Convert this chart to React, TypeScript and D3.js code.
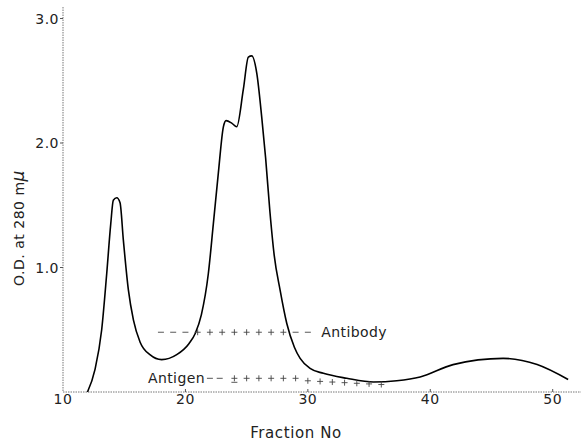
import React from "react";
import * as d3 from "d3";

// Elution profile: fraction number vs O.D. at 280 mμ
const fractions = [12, 12.61, 13.16, 13.57, 13.9, 14.11, 14.39, 14.66, 14.93, 15.34, 15.75, 16.3, 17.1, 18.06, 19.29, 20.3, 20.8, 21.3, 21.87, 22.28, 22.69, 23.1, 23.32, 23.78, 24.19, 24.73, 25.14, 25.42, 25.83, 26.24, 26.55, 26.9, 27.25, 27.73, 28.28, 28.9, 29.37, 30.18, 31.27, 33.18, 35.36, 37.26, 39.17, 41.86, 45.95, 48.73, 51.26];
const odValues = [0.0, 0.18, 0.5, 0.95, 1.35, 1.54, 1.56, 1.52, 1.22, 0.82, 0.58, 0.4, 0.3, 0.26, 0.3, 0.39, 0.47, 0.62, 0.95, 1.35, 1.76, 2.13, 2.18, 2.16, 2.13, 2.43, 2.69, 2.7, 2.56, 2.2, 1.88, 1.45, 1.1, 0.82, 0.55, 0.36, 0.27, 0.19, 0.15, 0.11, 0.08, 0.09, 0.12, 0.22, 0.27, 0.22, 0.1];

const xTicks = [10, 20, 30, 40, 50];
const yTicks = [1.0, 2.0, 3.0];

// Antibody test row
const antibodyFractions = [18, 19, 20, 21, 22, 23, 24, 25, 26, 27, 28, 29, 30];
const antibodySymbols = ["-", "-", "-", "+", "+", "+", "+", "+", "+", "+", "+", "-", "-"];
const antibodyLevel = 0.48;

// Antigen test row
const antigenFractions = [22, 22.8, 24, 25, 26, 27, 28, 29, 30, 31, 32, 33, 34, 35, 36];
const antigenSymbols = ["-", "-", "±", "+", "+", "+", "+", "+", "+", "+", "+", "+", "+", "+", "+"];
const antigenLevels = [0.11, 0.11, 0.11, 0.11, 0.11, 0.11, 0.11, 0.11, 0.09, 0.085, 0.08, 0.075, 0.07, 0.065, 0.06];

const W = 581;
const H = 441;
const FONT = "'DejaVu Sans', sans-serif";

export default function App() {
  const x = d3.scaleLinear().domain([10, 50]).range([63, 552.7]);
  const y = d3.scaleLinear().domain([0, 3]).range([392, 18.5]);

  const pts: [number, number][] = fractions.map((f, i) => [f, odValues[i]]);
  const line = d3
    .line<[number, number]>()
    .x((d) => x(d[0]))
    .y((d) => y(d[1]))
    .curve(d3.curveMonotoneX);

  const mark = (sym: string, cx: number, cy: number, key: string) => {
    const s = 3;
    if (sym === "-") {
      return <line key={key} x1={cx - 3} x2={cx + 3} y1={cy} y2={cy} stroke="#444" strokeWidth={0.9} />;
    }
    return (
      <g key={key} stroke="#444" strokeWidth={0.9}>
        <line x1={cx - s} x2={cx + s} y1={cy} y2={cy} />
        <line x1={cx} x2={cx} y1={cy - s} y2={cy + s} />
        {sym === "±" ? <line x1={cx - s} x2={cx + s} y1={cy + s + 1} y2={cy + s + 1} /> : null}
      </g>
    );
  };

  return (
    <div style={{ position: "absolute", left: 0, top: 0 }}>
      <svg width={W} height={H} style={{ display: "block", background: "#fff" }}>
        {/* axes */}
        <line x1={x(10)} x2={W} y1={y(0)} y2={y(0)} stroke="#777" strokeWidth={1} strokeDasharray="1.5,1" />
        <line x1={x(10)} x2={x(10)} y1={7} y2={y(0)} stroke="#777" strokeWidth={1} strokeDasharray="1.5,1" />
        {yTicks.map((t) => (
          <g key={"yt" + t}>
            <line x1={x(10) - 3} x2={x(10)} y1={y(t)} y2={y(t)} stroke="#555" />
            <text x={x(10) - 4} y={y(t) + 5} textAnchor="end" fontFamily={FONT} fontSize={14} fill="#222" letterSpacing={0.5}>
              {t.toFixed(1)}
            </text>
          </g>
        ))}
        {xTicks.map((t) => (
          <g key={"xt" + t}>
            {t > 10 ? <line x1={x(t)} x2={x(t)} y1={y(0) - 3} y2={y(0)} stroke="#555" /> : null}
            <text x={x(t)} y={404} textAnchor="middle" fontFamily={FONT} fontSize={14} fill="#222" letterSpacing={0.5}>
              {t}
            </text>
          </g>
        ))}
        <text x={296} y={438} textAnchor="middle" fontFamily={FONT} fontSize={15} fill="#222" letterSpacing={0.6}>
          Fraction No
        </text>
        <text
          transform={`translate(24, 228) rotate(-90)`}
          textAnchor="middle"
          fontFamily={FONT}
          fontSize={14}
          fill="#222"
          letterSpacing={0.5}
        >
          O.D. at 280 m<tspan fontStyle="italic" fontSize={17}>μ</tspan>
        </text>

        {/* curve */}
        <path d={line(pts) || ""} fill="none" stroke="#000" strokeWidth={1.6} strokeLinejoin="round" />

        {/* antibody row */}
        {antibodyFractions.map((f, i) => mark(antibodySymbols[i], x(f), y(antibodyLevel), "ab" + i))}
        <text x={x(31.1)} y={y(antibodyLevel) + 5} fontFamily={FONT} fontSize={14} fill="#222" letterSpacing={0.4}>
          Antibody
        </text>

        {/* antigen row */}
        <text x={x(21.6)} y={y(0.11) + 5} textAnchor="end" fontFamily={FONT} fontSize={14} fill="#222" letterSpacing={0.4}>
          Antigen
        </text>
        {antigenFractions.map((f, i) => mark(antigenSymbols[i], x(f), y(antigenLevels[i]), "ag" + i))}
      </svg>
    </div>
  );
}
